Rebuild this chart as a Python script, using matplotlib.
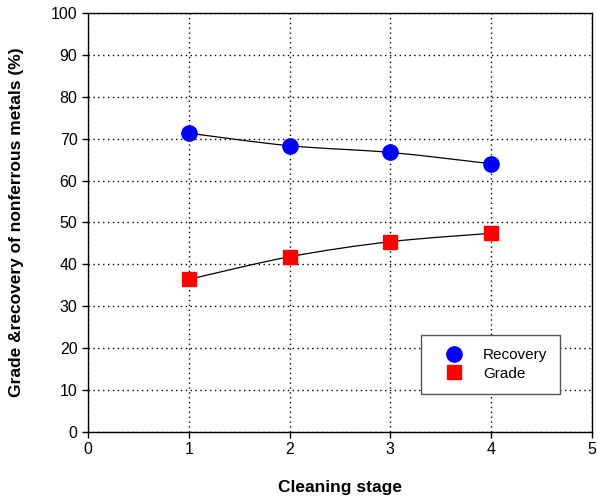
import numpy as np
import matplotlib
matplotlib.use("Agg")
import matplotlib.pyplot as plt
from matplotlib.path import Path
from matplotlib.patches import PathPatch
from matplotlib.lines import Line2D

plt.rcParams['font.family'] = ['Liberation Sans', 'DejaVu Sans']

# data
stages = [1, 2, 3, 4]
recovery = [71.3, 68.3, 66.7, 64.0]
grade = [36.4, 41.8, 45.4, 47.4]


# Excel-style smoothed line (Catmull-Rom -> cubic Bezier)
def smooth_path(xs, ys, t=1 / 6):
    xs = np.asarray(xs, float)
    ys = np.asarray(ys, float)
    pts = np.column_stack([xs, ys])
    verts = [pts[0]]
    codes = [Path.MOVETO]
    n = len(pts)
    for i in range(n - 1):
        p0 = pts[i - 1] if i > 0 else pts[i]
        p1 = pts[i]
        p2 = pts[i + 1]
        p3 = pts[i + 2] if i + 2 < n else pts[i + 1]
        c1 = p1 + (p2 - p0) * t
        c2 = p2 - (p3 - p1) * t
        verts += [c1, c2, p2]
        codes += [Path.CURVE4] * 3
    return Path(verts, codes)


fig = plt.figure(figsize=(5.98, 4.97), dpi=100)
ax = fig.add_axes([0.147, 0.131, 0.843, 0.843])

for ys in (recovery, grade):
    ax.add_patch(PathPatch(smooth_path(stages, ys), facecolor='none',
                           edgecolor='black', lw=0.9, zorder=3))

ax.plot(stages, recovery, linestyle='none', marker='o', ms=11,
        color='#0000ff', mec='#0000ff', zorder=4)
ax.plot(stages, grade, linestyle='none', marker='s', ms=10,
        color='#ff0000', mec='#ff0000', zorder=4)

ax.set_xlim(0, 5)
ax.set_ylim(0, 100)
ax.set_xticks(range(0, 6))
ax.set_yticks(range(0, 101, 10))
ax.grid(True, color='black', linestyle=(0, (1, 2.5)), linewidth=1.0)
ax.tick_params(direction='out', length=4, labelsize=11.5, width=1)
for s in ax.spines.values():
    s.set_linewidth(1.0)

ax.set_xlabel('Cleaning stage', fontsize=12.5, fontweight='bold')
ax.xaxis.set_label_coords(0.5, -0.115)
ax.set_ylabel('Grade &recovery of nonferrous metals (%)', fontsize=12.5,
              fontweight='bold')
ax.yaxis.set_label_coords(-0.127, 0.5)

handles = [
    Line2D([0], [0], marker='o', ls='none', ms=11, color='#0000ff', label='Recovery'),
    Line2D([0], [0], marker='s', ls='none', ms=10, color='#ff0000', label='Grade'),
]
leg = ax.legend(handles=handles, loc='lower left', bbox_to_anchor=(0.661, 0.091),
                fancybox=False, framealpha=1, edgecolor='#555555', fontsize=11,
                handletextpad=0.6, borderpad=0.85, labelspacing=0.3,
                borderaxespad=0, handlelength=2.6)
leg.get_frame().set_linewidth(1.0)

fig.savefig('out.png', dpi=100)
